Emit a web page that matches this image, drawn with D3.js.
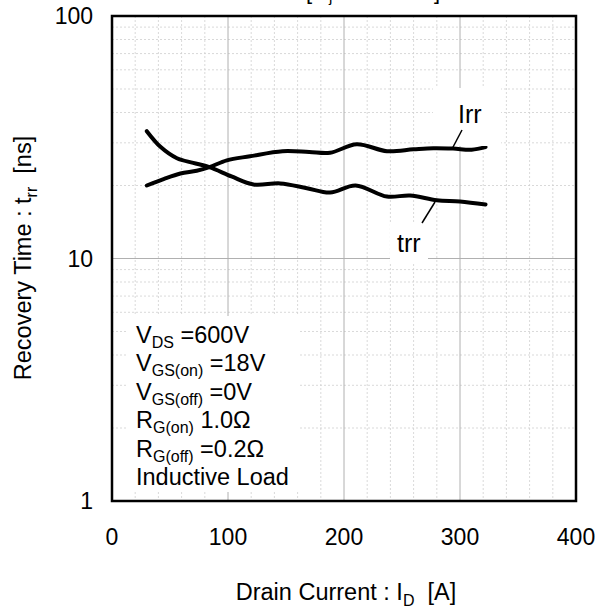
<!DOCTYPE html>
<html>
<head>
<meta charset="utf-8">
<script src="https://cdn.jsdelivr.net/npm/d3@7"></script>
<style>
  body { margin: 0; background: #fff; }
  text { font-family: "Liberation Sans", Arial, sans-serif; fill: #000; }
</style>
</head>
<body>
<script>
const width = 595
const height = 614
const padding = { top: 16, right: 19, bottom: 113, left: 112 }

// data
const irrCurrent = [30, 45, 59, 73, 84, 99, 119, 147, 170, 188, 211, 237, 260, 277, 294, 310, 322]
const irrValue = [20.0, 21.3, 22.4, 23.0, 23.8, 25.4, 26.4, 27.7, 27.5, 27.3, 29.6, 27.7, 28.2, 28.5, 28.4, 28.1, 28.8]
const trrCurrent = [30, 42, 56, 70, 84, 103, 122, 145, 168, 188, 210, 237, 257, 280, 300, 322]
const trrValue = [33.5, 28.8, 25.9, 24.8, 23.8, 21.8, 20.2, 20.4, 19.5, 18.7, 20.0, 18.0, 18.2, 17.4, 17.2, 16.7]
const xTicks = [0, 100, 200, 300, 400]
const yTicks = [1, 10, 100]
const conditions = [
  ["V", "DS", " =600V"],
  ["V", "GS(on)", " =18V"],
  ["V", "GS(off)", " =0V"],
  ["R", "G(on)", " 1.0Ω"],
  ["R", "G(off)", " =0.2Ω"],
  ["Inductive Load", "", ""]
]

const graphWidth = width - padding.left - padding.right
const graphHeight = height - padding.top - padding.bottom

const svg = d3.select("body").append("svg").attr("width", width).attr("height", height)

const scaleX = d3.scaleLinear().domain([0, 400]).range([0, graphWidth])
const scaleY = d3.scaleLog().domain([1, 100]).range([graphHeight, 0])

// title, mostly outside the top edge like the source
const title = svg.append("text").attr("x", 306).attr("y", -1).style("font-size", "22px")
  .attr("textLength", 134).attr("lengthAdjust", "spacing")
title.append("tspan").text("[T")
title.append("tspan").text("j").attr("dy", 3).style("font-size", "15px")
title.append("tspan").text(" = 150ºC]").attr("dy", -3)

const g = svg.append("g").attr("transform", `translate(${padding.left},${padding.top})`)

// grid
const minorX = d3.range(20, 400, 20).filter(v => v % 100 !== 0)
minorX.forEach(v => {
  g.append("line").attr("x1", scaleX(v)).attr("x2", scaleX(v)).attr("y1", 0).attr("y2", graphHeight)
    .style("stroke", "#cfcfcf").style("stroke-dasharray", "2,2").style("stroke-width", 0.8)
})
const minorY = []
;[1, 10].forEach(dec => d3.range(2, 10).forEach(m => minorY.push(dec * m)))
minorY.forEach(v => {
  g.append("line").attr("x1", 0).attr("x2", graphWidth).attr("y1", scaleY(v)).attr("y2", scaleY(v))
    .style("stroke", "#cfcfcf").style("stroke-dasharray", "2,2").style("stroke-width", 0.8)
})
xTicks.slice(1, -1).forEach(v => {
  g.append("line").attr("x1", scaleX(v)).attr("x2", scaleX(v)).attr("y1", 0).attr("y2", graphHeight)
    .style("stroke", "#b0b0b0").style("stroke-width", 1)
})
yTicks.slice(1, -1).forEach(v => {
  g.append("line").attr("x1", 0).attr("x2", graphWidth).attr("y1", scaleY(v)).attr("y2", scaleY(v))
    .style("stroke", "#b0b0b0").style("stroke-width", 1)
})

// white patches behind the labels
const patch = (x, y, w, h) => svg.append("rect").attr("x", x).attr("y", y).attr("width", w).attr("height", h).style("fill", "#fff")
patch(127, 316, 173, 176)
patch(433, 88, 68, 58)
patch(390, 222, 38, 40)

// curves
const line = d3.line()
  .x(d => scaleX(d[0]))
  .y(d => scaleY(d[1]))
  .curve(d3.curveCatmullRom.alpha(0.5))

const irr = irrCurrent.map((c, i) => [c, irrValue[i]])
const trr = trrCurrent.map((c, i) => [c, trrValue[i]])

;[irr, trr].forEach(s => {
  g.append("path").attr("d", line(s))
    .style("fill", "none").style("stroke", "#000").style("stroke-width", 4)
    .style("stroke-linejoin", "round").style("stroke-linecap", "round")
})

// leader lines and labels
svg.append("line").attr("x1", 462).attr("y1", 130).attr("x2", 452).attr("y2", 149).style("stroke", "#000").style("stroke-width", 1.5)
svg.append("line").attr("x1", 435).attr("y1", 202).attr("x2", 422).attr("y2", 223).style("stroke", "#000").style("stroke-width", 1.5)
svg.append("text").text("Irr").attr("x", 458).attr("y", 123).style("font-size", "25px")
svg.append("text").text("trr").attr("x", 397).attr("y", 252).style("font-size", "25px")

// frame
g.append("rect").attr("width", graphWidth).attr("height", graphHeight)
  .style("fill", "none").style("stroke", "#000").style("stroke-width", 2.5)

// tick labels
xTicks.forEach(v => {
  g.append("text").text(v).attr("x", scaleX(v)).attr("y", graphHeight + 44)
    .attr("text-anchor", "middle").style("font-size", "23px")
})
yTicks.forEach(v => {
  g.append("text").text(v).attr("x", -19).attr("y", scaleY(v)).attr("dy", "0.36em")
    .attr("text-anchor", "end").style("font-size", "23px")
})

// conditions box
conditions.forEach((c, i) => {
  const t = svg.append("text").attr("x", 136).attr("y", 343 + i * 28.4).style("font-size", "23.5px")
  t.append("tspan").text(c[0])
  if (c[1]) {
    t.append("tspan").text(c[1]).attr("dy", 5).style("font-size", "16px")
    t.append("tspan").text(c[2]).attr("dy", -5)
  }
})

// axis titles
const xt = svg.append("text").attr("x", 346).attr("y", 600).attr("text-anchor", "middle").style("font-size", "23.5px")
xt.append("tspan").text("Drain Current : I")
xt.append("tspan").text("D").attr("dy", 6).style("font-size", "16px")
xt.append("tspan").text("  [A]").attr("dy", -6).style("white-space", "pre")

const yt = svg.append("text").attr("transform", "translate(31,258) rotate(-90)").attr("text-anchor", "middle").style("font-size", "23.5px")
yt.append("tspan").text("Recovery Time : t")
yt.append("tspan").text("rr").attr("dy", 6).style("font-size", "16px")
yt.append("tspan").text("  [ns]").attr("dy", -6).style("white-space", "pre")
</script>
</body>
</html>
